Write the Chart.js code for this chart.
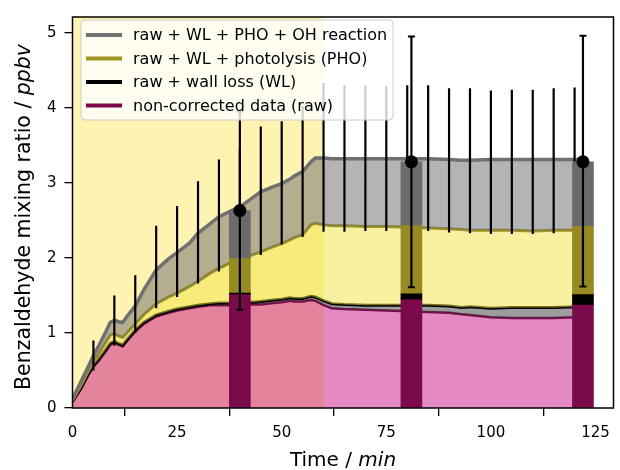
<!DOCTYPE html>
<html>
<head>
<meta charset="utf-8">
<script src="https://cdn.jsdelivr.net/npm/chart.js@4.4.1/dist/chart.umd.min.js"></script>
<style>
html, body { margin: 0; padding: 0; background: #fff; }
#wrap { width: 620px; height: 470px; position: relative; }
</style>
</head>
<body>
<div id="wrap"><canvas id="myChart"></canvas></div>
<script>
// time series (min)
const times   = [0, 2, 4, 5, 6, 8, 9, 10, 11, 12, 13, 15, 17, 20, 23, 25, 28, 30, 33, 35, 38, 40, 43, 45, 48, 50, 52, 53, 55, 57, 58, 60, 62, 65, 70, 75, 80, 85, 90, 93, 95, 100, 105, 110, 115, 120, 121]
const rawData = [0.08, 0.25, 0.46, 0.55, 0.61, 0.76, 0.84, 0.87, 0.84, 0.82, 0.89, 1.02, 1.12, 1.22, 1.27, 1.30, 1.33, 1.35, 1.37, 1.37, 1.37, 1.38, 1.38, 1.38, 1.40, 1.41, 1.43, 1.42, 1.42, 1.44, 1.43, 1.37, 1.33, 1.32, 1.31, 1.30, 1.29, 1.28, 1.27, 1.25, 1.24, 1.21, 1.20, 1.20, 1.20, 1.21, 1.21]
const wlData  = [0.09, 0.27, 0.48, 0.57, 0.63, 0.78, 0.86, 0.89, 0.86, 0.84, 0.91, 1.04, 1.14, 1.24, 1.29, 1.32, 1.35, 1.37, 1.39, 1.40, 1.40, 1.41, 1.41, 1.42, 1.44, 1.45, 1.47, 1.46, 1.46, 1.49, 1.48, 1.43, 1.39, 1.38, 1.37, 1.37, 1.37, 1.37, 1.36, 1.34, 1.35, 1.33, 1.34, 1.34, 1.34, 1.35, 1.35]
const phoData = [0.10, 0.30, 0.52, 0.62, 0.70, 0.88, 0.97, 0.99, 0.96, 0.94, 1.00, 1.12, 1.24, 1.39, 1.48, 1.53, 1.62, 1.69, 1.80, 1.86, 1.94, 1.99, 2.04, 2.08, 2.15, 2.19, 2.24, 2.27, 2.31, 2.44, 2.46, 2.44, 2.43, 2.43, 2.42, 2.42, 2.41, 2.40, 2.39, 2.38, 2.37, 2.37, 2.37, 2.36, 2.37, 2.37, 2.37]
const ohData  = [0.12, 0.35, 0.58, 0.70, 0.80, 1.02, 1.14, 1.17, 1.15, 1.14, 1.22, 1.36, 1.57, 1.84, 1.99, 2.07, 2.20, 2.33, 2.46, 2.55, 2.63, 2.68, 2.80, 2.88, 2.95, 2.99, 3.05, 3.09, 3.15, 3.28, 3.33, 3.33, 3.32, 3.32, 3.32, 3.32, 3.32, 3.32, 3.31, 3.30, 3.30, 3.31, 3.31, 3.31, 3.31, 3.31, 3.31]

// uncertainty of the corrected data, every 5 min
const errTimes = [5, 10, 15, 20, 25, 30, 35, 40, 45, 50, 55, 60, 65, 70, 75, 80, 85, 90, 95, 100, 105, 110, 115, 120]
const errLow   = [0.50, 0.83, 1.00, 1.33, 1.48, 1.66, 1.82, 1.90, 2.04, 2.18, 2.28, 2.35, 2.35, 2.36, 2.36, 2.36, 2.36, 2.34, 2.33, 2.32, 2.32, 2.32, 2.33, 2.34]
const errHigh  = [0.90, 1.50, 1.77, 2.43, 2.69, 3.02, 3.31, 3.45, 3.75, 3.82, 4.02, 4.33, 4.30, 4.30, 4.29, 4.30, 4.30, 4.26, 4.26, 4.23, 4.24, 4.24, 4.26, 4.27]

// stacked bars at the three sampling times
const barTimes   = [40, 81, 122]
const barRaw     = [1.52, 1.45, 1.38]
const barWL      = [1.54, 1.53, 1.52]
const barPHO     = [2.00, 2.44, 2.43]
const barOH      = [2.63, 3.28, 3.28]
const barErrLow  = [1.31, 1.61, 1.62]
const barErrHigh = [3.95, 4.95, 4.96]

const spanStart = 0, spanEnd = 60
const xTicks = [0, 25, 50, 75, 100, 125]
const yTicks = [0, 1, 2, 3, 4, 5]

const FONT = '"DejaVu Sans", "Liberation Sans", sans-serif'

const pts = (xs, ys) => xs.map((x, i) => ({x: x, y: ys[i]}))
const floating = (xs, lo, hi) => xs.map((x, i) => ({x: x, y: [lo[i], hi[i]]}))
const whiskers = (xs, lo, hi) => {
    const out = []
    xs.forEach((x, i) => { out.push({x: x, y: lo[i]}, {x: x, y: hi[i]}, {x: x, y: null}) })
    return out
}

const lineSet = (label, data, color, width, fillColor, fill, order) => ({
    type: 'line', label: label, data: data,
    borderColor: color, borderWidth: width,
    backgroundColor: fillColor, fill: fill,
    pointRadius: 0, tension: 0, order: order
})
const barSet = (lo, hi, color, order) => ({
    type: 'bar', data: floating(barTimes, lo, hi),
    backgroundColor: color, borderWidth: 0,
    barThickness: 21, grouped: false, order: order
})

const decor = {
    id: 'decor',
    beforeDatasetsDraw(chart) {
        const {ctx, chartArea: a, scales: {x}} = chart
        const x0 = x.getPixelForValue(spanStart), x1 = x.getPixelForValue(spanEnd)
        ctx.save()
        ctx.fillStyle = 'rgba(255,215,0,0.3)'
        ctx.fillRect(x0, a.top, x1 - x0, a.bottom - a.top)
        ctx.restore()
    },
    afterDraw(chart) {
        const {ctx, chartArea: a} = chart
        ctx.save()
        // frame
        ctx.strokeStyle = '#000'
        ctx.lineWidth = 1.5
        ctx.strokeRect(a.left, a.top, a.right - a.left, a.bottom - a.top)

        // legend
        const lx = 81, ly = 20, lw = 312, lh = 100
        ctx.beginPath()
        ctx.roundRect(lx, ly, lw, lh, 4)
        ctx.fillStyle = 'rgba(255,255,255,0.8)'
        ctx.fill()
        ctx.strokeStyle = '#cccccc'
        ctx.lineWidth = 1
        ctx.stroke()
        const entries = [3, 2, 1, 0].map(i => chart.data.datasets[i])
        ctx.font = '16px ' + FONT
        ctx.textBaseline = 'middle'
        entries.forEach((ds, k) => {
            const yy = ly + 15 + k * 23.5
            ctx.beginPath()
            ctx.moveTo(lx + 5, yy)
            ctx.lineTo(lx + 41, yy)
            ctx.strokeStyle = ds.borderColor
            ctx.lineWidth = 4
            ctx.stroke()
            ctx.fillStyle = '#000'
            ctx.fillText(ds.label, lx + 52, yy + 1)
        })

        // axis titles with italic units
        const mixed = (parts, size) => {
            let w = 0
            parts.forEach(p => { ctx.font = (p[1] ? 'italic ' : '') + size + 'px ' + FONT; w += ctx.measureText(p[0]).width })
            let pos = -w / 2
            parts.forEach(p => {
                ctx.font = (p[1] ? 'italic ' : '') + size + 'px ' + FONT
                ctx.fillText(p[0], pos, 0)
                pos += ctx.measureText(p[0]).width
            })
        }
        ctx.fillStyle = '#000'
        ctx.textBaseline = 'middle'
        ctx.textAlign = 'left'
        ctx.save()
        ctx.translate((a.left + a.right) / 2, 461)
        mixed([['Time / ', false], ['min', true]], 20)
        ctx.restore()
        ctx.save()
        ctx.translate(25, 217)
        ctx.rotate(-Math.PI / 2)
        mixed([['Benzaldehyde mixing ratio / ', false], ['ppbv', true]], 20.5)
        ctx.restore()
        ctx.restore()
    }
}

const ctx = document.getElementById('myChart')

const chart = new Chart(ctx, {
    type: 'line',
    data: {
        datasets: [
            lineSet('non-corrected data (raw)', pts(times, rawData), '#7a0a4a', 2.5, 'rgba(199,21,133,0.5)', 'origin', 13),
            lineSet('raw + wall loss (WL)', pts(times, wlData), '#000000', 3, 'rgba(60,60,60,0.5)', '-1', 12),
            lineSet('raw + WL + photolysis (PHO)', pts(times, phoData), '#9e9422', 3, 'rgba(240,228,66,0.5)', '-1', 11),
            lineSet('raw + WL + PHO + OH reaction', pts(times, ohData), '#707070', 3.5, 'rgba(105,105,105,0.5)', '-1', 10),
            {
                type: 'line', data: whiskers(errTimes, errLow, errHigh),
                borderColor: '#000', borderWidth: 2.2, pointRadius: 0, fill: false, order: 9
            },
            barSet(barTimes.map(() => 0), barRaw, '#7a0a4a', 8),
            barSet(barRaw, barWL, '#000000', 7),
            barSet(barWL, barPHO, '#968a20', 6),
            barSet(barPHO, barOH, '#6b6b6b', 5),
            {
                type: 'line', data: whiskers(barTimes, barErrLow, barErrHigh),
                borderColor: '#000', borderWidth: 2.2, pointRadius: 0, fill: false, order: 2
            },
            {
                type: 'line', data: pts(barTimes, barErrLow).concat(pts(barTimes, barErrHigh)),
                showLine: false, pointStyle: 'line', pointRadius: 3.5,
                borderColor: '#000', pointBorderWidth: 2, order: 1
            },
            {
                type: 'line', data: pts(barTimes, barOH),
                showLine: false, pointRadius: 6.5, backgroundColor: '#000',
                pointBorderWidth: 0, borderColor: '#000', order: 0
            }
        ]
    },
    options: {
        responsive: true,
        maintainAspectRatio: false,
        animation: false,
        events: [],
        layout: { padding: { left: 0, right: 2, top: 13, bottom: 0 } },
        plugins: { legend: { display: false }, tooltip: { enabled: false } },
        scales: {
            x: {
                type: 'linear', min: 0, max: 129.3, offset: false,
                afterBuildTicks: s => { s.ticks = xTicks.map(v => ({value: v})) },
                afterFit: s => { s.height = 62 },
                grid: { display: true, drawOnChartArea: false, drawTicks: true, tickLength: 8, color: '#000', lineWidth: 1.3 },
                border: { display: false },
                ticks: { color: '#000', font: { family: FONT, size: 15 }, padding: 8, maxRotation: 0 }
            },
            y: {
                type: 'linear', min: 0, max: 5.21,
                afterBuildTicks: s => { s.ticks = yTicks.map(v => ({value: v})) },
                afterFit: s => { s.width = 72.5 },
                grid: { display: true, drawOnChartArea: false, drawTicks: true, tickLength: 8, color: '#000', lineWidth: 1.3 },
                border: { display: false },
                ticks: { color: '#000', font: { family: FONT, size: 15 }, padding: 8 }
            }
        }
    },
    plugins: [decor]
})
</script>
</body>
</html>
